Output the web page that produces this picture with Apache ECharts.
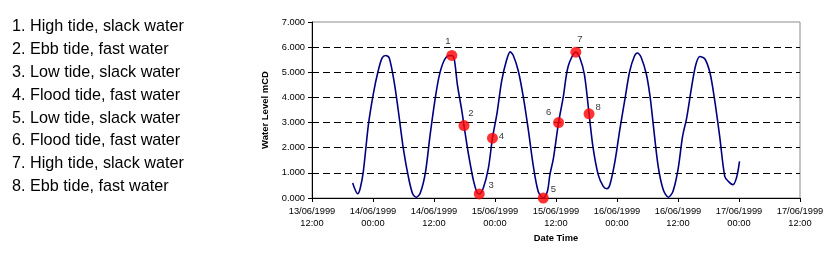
<!DOCTYPE html>
<html><head><meta charset="utf-8">
<script src="https://cdn.jsdelivr.net/npm/echarts/dist/echarts.min.js"></script>
<style>html,body{margin:0;padding:0;background:#fff}#c{width:833px;height:256px}</style>
</head><body><div id="c"></div>
<script>
// Notes list (left side)
const notes = [
  '1. High tide, slack water',
  '2. Ebb tide, fast water',
  '3. Low tide, slack water',
  '4. Flood tide, fast water',
  '5. Low tide, slack water',
  '6. Flood tide, fast water',
  '7. High tide, slack water',
  '8. Ebb tide, fast water'
];
// Curve: hours since 13/06/1999 00:00, water level mCD
const curveHours = [20.0,21.0,21.5,22.1,23.1,24.1,25.0,25.8,26.5,27.2,28.2,29.0,30.0,31.0,31.8,32.5,33.3,34.3,35.2,36.2,37.0,37.9,38.8,40.0,40.6,41.5,42.8,43.8,44.5,45.7,46.7,48.4,49.3,50.2,51.0,51.6,52.6,53.6,54.6,55.5,56.5,58.3,58.8,59.5,61.4,62.4,64.7,65.6,67.3,68.3,69.3,70.0,70.6,71.6,72.6,73.6,74.5,75.4,76.0,76.8,77.8,78.5,79.1,80.1,81.1,82.1,83.0,84.0,84.9,85.7,86.7,87.5,88.3,89.3,90.3,91.2,92.2,93.2,93.9,94.8,95.5,96.1];
const curveLevels = [0.60,0.17,0.40,1.06,2.92,4.18,5.04,5.57,5.67,5.57,4.57,3.44,1.92,0.80,0.17,0.03,0.20,1.00,2.45,3.91,4.84,5.43,5.66,5.50,4.51,3.44,1.72,0.66,0.20,0.40,1.19,3.38,4.64,5.43,5.81,5.67,5.04,3.98,2.65,1.32,0.26,0.26,0.93,1.59,3.98,5.24,5.57,4.90,1.99,0.93,0.46,0.37,0.53,1.46,2.78,3.98,5.04,5.63,5.77,5.57,4.90,4.04,2.98,1.26,0.33,0.03,0.26,1.13,2.45,3.18,4.44,5.30,5.63,5.53,4.97,3.91,2.45,0.86,0.66,0.53,0.80,1.46];
// Marked tide states
const eventHours = [39.5,41.9,44.9,47.5,57.5,60.5,63.9,66.5];
const eventLevels = [5.67,2.88,0.16,2.38,0.00,3.00,5.80,3.35];
const eventLabels = ['1','2','3','4','5','6','7','8'];
// Axes
const yTicks = [0,1,2,3,4,5,6,7];
const xStartHour = 12, xEndHour = 108, xStepHours = 12;
const baseDay = 13, monthYear = '06/1999';

// label offsets (style)
const labelOffsets = [[-4,-14],[7,-12],[12,-9],[9,-2],[10,-9],[-10,-10],[4,-13],[9,-6]];

const pts = curveHours.map((h,i)=>[h,curveLevels[i]]);
eventHours.forEach((h,i)=>pts.push([h,eventLevels[i]]));
pts.sort((a,b)=>a[0]-b[0]);

function fmtHour(h){
  const d = baseDay + Math.floor(h/24);
  const hh = h % 24;
  return (d<10?'0':'')+d+'/'+monthYear+'\n'+(hh<10?'0':'')+hh+':00';
}

const chart = echarts.init(document.getElementById('c'), null, {renderer:'canvas'});
const font = 'Liberation Sans, Arial, sans-serif';
chart.setOption({
  animation:false,
  backgroundColor:'#fff',
  textStyle:{fontFamily:font},
  grid:{left:312,right:33,top:22,bottom:58,show:true,borderColor:'#8c8c8c',borderWidth:1,containLabel:false,outerBoundsMode:'none'},
  xAxis:{
    type:'value',min:xStartHour,max:xEndHour,interval:xStepHours,
    name:'Date Time',nameLocation:'middle',nameGap:34,
    nameTextStyle:{fontFamily:font,fontSize:9.3,fontWeight:'bold',color:'#000'},
    axisLine:{show:true,lineStyle:{color:'#000',width:1}},
    axisTick:{show:true,length:4,lineStyle:{color:'#000'}},
    axisLabel:{color:'#000',fontSize:9.3,fontFamily:font,lineHeight:12,margin:7,showMinLabel:true,showMaxLabel:true,hideOverlap:false,formatter:fmtHour},
    splitLine:{show:false}
  },
  yAxis:{
    type:'value',min:yTicks[0],max:yTicks[yTicks.length-1],interval:1,
    name:'Water Level mCD',nameLocation:'middle',nameGap:38,nameRotate:90,
    nameTextStyle:{fontFamily:font,fontSize:9.5,fontWeight:'bold',color:'#000'},
    axisLine:{show:true,lineStyle:{color:'#000',width:1}},
    axisTick:{show:true,length:4,lineStyle:{color:'#000'}},
    axisLabel:{color:'#000',fontSize:9.3,fontFamily:font,margin:7,showMinLabel:true,showMaxLabel:true,formatter:v=>v.toFixed(3)},
    splitLine:{show:false}
  },
  graphic: notes.map((t,i)=>({
    type:'text',left:12,top:19+i*22.8,
    style:{text:t,fontFamily:font,fontSize:16.2,fill:'#000'}
  })),
  series:[
    {
      type:'line',data:pts,smooth:0.3,showSymbol:false,symbol:'none',
      lineStyle:{color:'#000080',width:1.6},z:3,
      markLine:{silent:true,symbol:'none',label:{show:false},
        lineStyle:{color:'#000',type:[7,4],width:1},
        data:yTicks.filter(v=>v>yTicks[0]&&v<yTicks[yTicks.length-1]).map(v=>({yAxis:v}))}
    },
    {
      type:'scatter',symbol:'circle',symbolSize:11,z:5,
      itemStyle:{color:'#ff0000'},
      data:eventHours.map((h,i)=>({value:[h,eventLevels[i]],
        label:{show:true,position:'inside',offset:labelOffsets[i],formatter:eventLabels[i],
          color:'#000',fontSize:9.5,fontFamily:font}}))
    }
  ]
});
</script></body></html>
